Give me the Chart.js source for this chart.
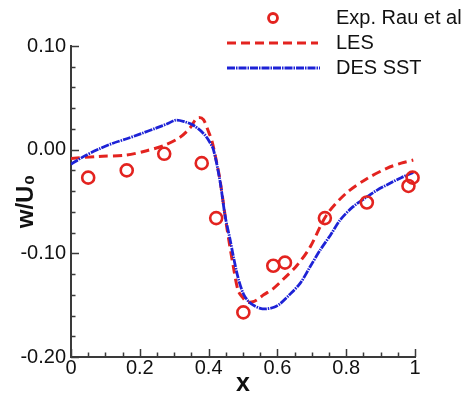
<!DOCTYPE html>
<html>
<head>
<meta charset="utf-8">
<script src="https://cdn.jsdelivr.net/npm/chart.js@4/dist/chart.umd.min.js"></script>
<style>
  html, body { margin: 0; padding: 0; background: #fff; }
  #wrap { width: 466px; height: 395px; position: relative; }
</style>
</head>
<body>
<div id="wrap"><canvas id="c" width="466" height="395"></canvas></div>
<script>
// ---- data ----
const expX = [0.05, 0.162, 0.271, 0.380, 0.422, 0.501, 0.588, 0.622, 0.738, 0.86, 0.981, 0.993];
const expY = [-0.027, -0.020, -0.004, -0.013, -0.066, -0.157, -0.112, -0.109, -0.066, -0.051, -0.035, -0.027];

const lesX = [0, 0.08, 0.16, 0.22, 0.27, 0.317, 0.346, 0.362, 0.372, 0.385, 0.399, 0.41, 0.422, 0.433, 0.453, 0.472, 0.486, 0.50, 0.511, 0.525, 0.54, 0.56, 0.588, 0.62, 0.656, 0.695, 0.743, 0.80, 0.86, 0.918, 0.96, 0.995];
const lesY = [-0.0085, -0.0065, -0.0053, -0.001, 0.004, 0.012, 0.021, 0.029, 0.031, 0.029, 0.018, 0.008, -0.010, -0.029, -0.075, -0.113, -0.136, -0.143, -0.147, -0.147, -0.145, -0.140, -0.134, -0.124, -0.112, -0.094, -0.063, -0.042, -0.028, -0.018, -0.013, -0.010];

const desX = [0, 0.04, 0.084, 0.12, 0.162, 0.2, 0.249, 0.28, 0.305, 0.33, 0.356, 0.385, 0.40, 0.414, 0.433, 0.448, 0.462, 0.472, 0.486, 0.501, 0.515, 0.53, 0.55, 0.569, 0.59, 0.608, 0.635, 0.666, 0.695, 0.724, 0.755, 0.782, 0.82, 0.86, 0.89, 0.918, 0.96, 0.995];
const desY = [-0.014, -0.006, 0.001, 0.006, 0.0105, 0.015, 0.021, 0.025, 0.0285, 0.027, 0.0235, 0.0157, 0.009, 0.000, -0.030, -0.064, -0.086, -0.103, -0.124, -0.139, -0.146, -0.150, -0.153, -0.1535, -0.152, -0.1486, -0.140, -0.129, -0.113, -0.097, -0.082, -0.068, -0.055, -0.0456, -0.039, -0.034, -0.027, -0.022];

const seriesNames = ['Exp. Rau et al', 'LES', 'DES SST'];
const xTicks = [0, 0.2, 0.4, 0.6, 0.8, 1];
const xTickLabels = ['0', '0.2', '0.4', '0.6', '0.8', '1'];
const yTicks = [-0.2, -0.1, 0, 0.1];
const yTickLabels = ['-0.20', '-0.10', '0.00', '0.10'];
const xTitle = 'x';
const yTitle = 'w/U\u2080';

const toPts = (xs, ys) => xs.map((x, i) => ({ x: x, y: ys[i] }));

const RED = '#e3231f';
const BLUE = '#1d22d6';
const AXIS = '#3a3a3a';
const FONT = "'Liberation Sans', Arial, sans-serif";

// inward major/minor tick marks, drawn through the scales
const innerTicks = {
  id: 'innerTicks',
  afterDraw(chart) {
    const { ctx, chartArea, scales } = chart;
    const xs = scales.x, ys = scales.y;
    ctx.save();
    ctx.strokeStyle = AXIS;
    ctx.lineWidth = 1.5;
    ctx.beginPath();
    for (let i = 0; i <= 20; i++) {
      const px = Math.round(xs.getPixelForValue(i * 0.05)) + 0.5;
      const len = (i % 4 === 0) ? 8 : 4.5;
      ctx.moveTo(px, chartArea.bottom);
      ctx.lineTo(px, chartArea.bottom - len);
    }
    for (let i = 0; i <= 15; i++) {
      const py = Math.round(ys.getPixelForValue(-0.2 + i * 0.02)) + 0.5;
      const len = (i % 5 === 0) ? 8 : 4.5;
      ctx.moveTo(chartArea.left, py);
      ctx.lineTo(chartArea.left + len, py);
    }
    ctx.stroke();
    ctx.restore();
  }
};

// legend drawn in the upper right
const customLegend = {
  id: 'customLegend',
  afterDraw(chart) {
    const ctx = chart.ctx;
    const ds = chart.data.datasets;
    ctx.save();
    ctx.beginPath();
    ctx.arc(273, 18, 4.5, 0, Math.PI * 2);
    ctx.strokeStyle = ds[0].borderColor;
    ctx.lineWidth = 2.8;
    ctx.stroke();
    ctx.beginPath();
    ctx.setLineDash(ds[1].borderDash);
    ctx.strokeStyle = ds[1].borderColor;
    ctx.lineWidth = ds[1].borderWidth;
    ctx.moveTo(227, 43); ctx.lineTo(318, 43);
    ctx.stroke();
    ctx.beginPath();
    ctx.setLineDash(ds[2].borderDash);
    ctx.strokeStyle = ds[2].borderColor;
    ctx.lineWidth = ds[2].borderWidth;
    ctx.moveTo(227, 68); ctx.lineTo(320, 68);
    ctx.stroke();
    ctx.setLineDash([]);
    ctx.fillStyle = '#111';
    ctx.font = '20px ' + FONT;
    ctx.textAlign = 'left';
    ctx.textBaseline = 'middle';
    ctx.fillText(seriesNames[0], 336, 18);
    ctx.fillText(seriesNames[1], 336, 43);
    ctx.fillText(seriesNames[2], 336, 68);
    ctx.restore();
  }
};

new Chart(document.getElementById('c'), {
  type: 'scatter',
  data: {
    datasets: [
      {
        label: seriesNames[0],
        data: toPts(expX, expY),
        showLine: false,
        pointStyle: 'circle',
        pointRadius: 6,
        pointBorderWidth: 2.6,
        borderColor: RED,
        pointBorderColor: RED,
        backgroundColor: 'rgba(0,0,0,0)',
        pointBackgroundColor: 'rgba(0,0,0,0)',
        clip: false,
        order: 0
      },
      {
        label: seriesNames[1],
        data: toPts(lesX, lesY),
        showLine: true,
        borderColor: RED,
        borderWidth: 3,
        borderDash: [9, 5],
        pointRadius: 0,
        tension: 0.3,
        fill: false,
        order: 2
      },
      {
        label: seriesNames[2],
        data: toPts(desX, desY),
        showLine: true,
        borderColor: BLUE,
        borderWidth: 2.8,
        borderDash: [8, 1, 1.5, 1],
        pointRadius: 0,
        tension: 0.3,
        fill: false,
        order: 1
      }
    ]
  },
  options: {
    responsive: false,
    animation: false,
    devicePixelRatio: 1,
    layout: { padding: { top: 46, right: 51, left: 0, bottom: 0 } },
    plugins: {
      legend: { display: false },
      tooltip: { enabled: false },
      title: { display: false }
    },
    scales: {
      x: {
        type: 'linear',
        min: 0, max: 1,
        afterBuildTicks: (s) => { s.ticks = xTicks.map(v => ({ value: v })); },
        afterFit: (s) => { s.height = 38; },
        grid: { display: false, drawTicks: false },
        border: { display: true, color: AXIS, width: 2 },
        ticks: {
          padding: 1,
          maxRotation: 0,
          autoSkip: false,
          color: '#111',
          font: { family: FONT, size: 20, lineHeight: 1 },
          callback: (v, i) => xTickLabels[i]
        },
        title: {
          display: true,
          text: xTitle,
          color: '#111',
          font: { family: FONT, size: 25, weight: 'bold', lineHeight: 0.85 },
          padding: { top: 0, bottom: 0 }
        }
      },
      y: {
        type: 'linear',
        min: -0.2, max: 0.1,
        afterBuildTicks: (s) => { s.ticks = yTicks.map(v => ({ value: v })); },
        afterFit: (s) => { s.width = 71; },
        grid: { display: false, drawTicks: false },
        border: { display: true, color: AXIS, width: 2 },
        ticks: {
          padding: 5,
          autoSkip: false,
          color: '#111',
          font: { family: FONT, size: 20, lineHeight: 1 },
          callback: (v, i) => yTickLabels[i]
        },
        title: {
          display: true,
          text: yTitle,
          color: '#111',
          font: { family: FONT, size: 24, weight: 'bold', lineHeight: 1 },
          padding: { top: 14, bottom: 0 }
        }
      }
    }
  },
  plugins: [innerTicks, customLegend]
});
</script>
</body>
</html>
